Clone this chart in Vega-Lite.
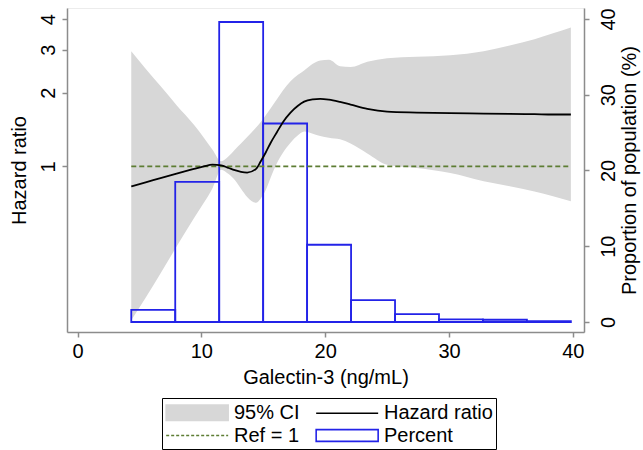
{
  "$schema": "https://vega.github.io/schema/vega-lite/v6.json",
  "width": 517,
  "height": 324,
  "autosize": "none",
  "padding": {"left": 67, "top": 8, "right": 59, "bottom": 118},
  "config": {
    "font": "Liberation Sans",
    "view": {"stroke": "#ececec"},
    "axis": {
      "grid": false,
      "domainColor": "#8c8c8c",
      "tickColor": "#8c8c8c",
      "domainWidth": 1.5,
      "tickWidth": 1.5,
      "tickSize": 5,
      "labelFontSize": 20,
      "titleFontSize": 20,
      "labelColor": "black",
      "titleColor": "black",
      "titleFontWeight": "normal",
      "labelFont": "Liberation Sans",
      "titleFont": "Liberation Sans"
    },
    "legend": {
      "title": null,
      "orient": "none",
      "legendX": 95,
      "legendY": 390,
      "columns": 2,
      "symbolSize": 427,
      "symbolStrokeWidth": 1.6,
      "symbolOpacity": 1,
      "labelFontSize": 20,
      "labelFont": "Liberation Sans",
      "labelColor": "black",
      "labelOffset": 46,
      "columnPadding": 12,
      "rowPadding": -5,
      "strokeColor": "black",
      "padding": 3,
      "fillColor": "white",
      "labelLimit": 300
    }
  },
  "datasets": {
    "curve": [
      {"x": 4.34, "hr": 0.828, "lo": 0.235, "hi": 2.96},
      {"x": 5.5, "hr": 0.86, "lo": 0.29, "hi": 2.51},
      {"x": 6.7, "hr": 0.896, "lo": 0.365, "hi": 2.13},
      {"x": 8.0, "hr": 0.935, "lo": 0.47, "hi": 1.78},
      {"x": 9.4, "hr": 0.976, "lo": 0.614, "hi": 1.48},
      {"x": 10.2, "hr": 1.0, "lo": 0.71, "hi": 1.31},
      {"x": 10.9, "hr": 1.016, "lo": 0.815, "hi": 1.17},
      {"x": 11.6, "hr": 1.01, "lo": 0.97, "hi": 1.05},
      {"x": 12.2, "hr": 0.985, "lo": 0.93, "hi": 1.1},
      {"x": 12.7, "hr": 0.965, "lo": 0.88, "hi": 1.17},
      {"x": 13.2, "hr": 0.95, "lo": 0.81, "hi": 1.24},
      {"x": 13.7, "hr": 0.944, "lo": 0.75, "hi": 1.32},
      {"x": 14.4, "hr": 0.975, "lo": 0.71, "hi": 1.44},
      {"x": 14.8, "hr": 1.05, "lo": 0.74, "hi": 1.52},
      {"x": 15.2, "hr": 1.14, "lo": 0.8, "hi": 1.62},
      {"x": 15.6, "hr": 1.25, "lo": 0.9, "hi": 1.73},
      {"x": 16.1, "hr": 1.38, "lo": 1.03, "hi": 1.88},
      {"x": 16.6, "hr": 1.52, "lo": 1.14, "hi": 2.05},
      {"x": 17.2, "hr": 1.66, "lo": 1.25, "hi": 2.23},
      {"x": 17.8, "hr": 1.77, "lo": 1.34, "hi": 2.37},
      {"x": 18.3, "hr": 1.84, "lo": 1.39, "hi": 2.47},
      {"x": 19.0, "hr": 1.88, "lo": 1.36, "hi": 2.63},
      {"x": 19.6, "hr": 1.89, "lo": 1.33, "hi": 2.71},
      {"x": 20.3, "hr": 1.875, "lo": 1.31, "hi": 2.73},
      {"x": 21.2, "hr": 1.835, "lo": 1.29, "hi": 2.57},
      {"x": 22.05, "hr": 1.79, "lo": 1.24, "hi": 2.55},
      {"x": 23.4, "hr": 1.72, "lo": 1.13, "hi": 2.68},
      {"x": 25.0, "hr": 1.675, "lo": 1.016, "hi": 2.77},
      {"x": 27.4, "hr": 1.66, "lo": 0.985, "hi": 2.81},
      {"x": 30.1, "hr": 1.65, "lo": 0.94, "hi": 2.85},
      {"x": 32.8, "hr": 1.645, "lo": 0.87, "hi": 2.96},
      {"x": 34.9, "hr": 1.64, "lo": 0.83, "hi": 3.12},
      {"x": 36.9, "hr": 1.635, "lo": 0.79, "hi": 3.31},
      {"x": 38.4, "hr": 1.63, "lo": 0.755, "hi": 3.5},
      {"x": 39.84, "hr": 1.63, "lo": 0.72, "hi": 3.7}
    ],
    "bins": [
      {"x0": 4.34, "x1": 7.89, "pct": 1.6},
      {"x0": 7.89, "x1": 11.44, "pct": 18.5},
      {"x0": 11.44, "x1": 14.99, "pct": 39.6},
      {"x0": 14.99, "x1": 18.54, "pct": 26.2},
      {"x0": 18.54, "x1": 22.09, "pct": 10.2},
      {"x0": 22.09, "x1": 25.64, "pct": 2.9},
      {"x0": 25.64, "x1": 29.19, "pct": 1.05},
      {"x0": 29.19, "x1": 32.74, "pct": 0.35},
      {"x0": 32.74, "x1": 36.29, "pct": 0.3},
      {"x0": 36.29, "x1": 39.84, "pct": 0.12}
    ],
    "ref": [
      {"x0": 4.34, "x1": 39.84, "hr": 1}
    ],
    "leg": [
      {"item": "95% CI"},
      {"item": "Hazard ratio"},
      {"item": "Ref = 1"},
      {"item": "Percent"}
    ]
  },
  "layer": [
    {
      "data": {"name": "curve"},
      "mark": {"type": "area", "color": "#d7d7d7", "interpolate": "monotone"},
      "encoding": {
        "x": {"field": "x", "type": "quantitative", "scale": {"domain": [-0.85, 40.9], "nice": false, "zero": false},
          "axis": {"values": [0, 10, 20, 30, 40], "title": "Galectin-3 (ng/mL)", "labelPadding": 4, "titlePadding": 6}},
        "y": {"field": "lo", "type": "quantitative", "scale": {"type": "log", "domain": [0.2103, 4.444], "nice": false, "zero": false},
          "axis": {"orient": "left", "values": [1, 2, 3, 4], "labelAngle": 270, "title": "Hazard ratio", "titleAngle": 270, "labelPadding": 4, "titleX": -48, "titleY": 162, "titleAlign": "center", "titleBaseline": "middle"}},
        "y2": {"field": "hi"}
      }
    },
    {
      "data": {"name": "bins"},
      "mark": {"type": "rect", "fillOpacity": 0, "stroke": "#2323e8", "strokeWidth": 1.8},
      "encoding": {
        "x": {"field": "x0", "type": "quantitative"},
        "x2": {"field": "x1"},
        "y": {"field": "pct", "type": "quantitative", "scale": {"domain": [-1.32, 41.45], "nice": false, "zero": false},
          "axis": {"orient": "right", "values": [0, 10, 20, 30, 40], "labelAngle": 270, "title": "Proportion of population (%)", "titleAngle": 270, "labelPadding": 9, "titleX": 45, "titleY": 162, "titleAlign": "center", "titleBaseline": "middle"}},
        "y2": {"datum": 0}
      }
    },
    {
      "data": {"name": "ref"},
      "mark": {"type": "rule", "color": "#5d7d33", "strokeWidth": 1.6, "strokeDash": [5, 3]},
      "encoding": {
        "x": {"field": "x0", "type": "quantitative"},
        "x2": {"field": "x1"},
        "y": {"field": "hr", "type": "quantitative", "scale": {"type": "log", "domain": [0.2103, 4.444], "nice": false, "zero": false}, "axis": null}
      }
    },
    {
      "data": {"name": "curve"},
      "mark": {"type": "line", "color": "black", "strokeWidth": 1.8, "interpolate": "monotone"},
      "encoding": {
        "x": {"field": "x", "type": "quantitative"},
        "y": {"field": "hr", "type": "quantitative", "scale": {"type": "log", "domain": [0.2103, 4.444], "nice": false, "zero": false}, "axis": null}
      }
    },
    {
      "data": {"name": "leg"},
      "mark": {"type": "point", "opacity": 0},
      "encoding": {
        "shape": {"field": "item", "type": "nominal",
          "scale": {"domain": ["95% CI", "Ref = 1", "Hazard ratio", "Percent"], "range": ["M-1,-0.75H5V0.75H-1Z", "M-1,0H5", "M-1,0H5", "M-1,-0.57H5V0.57H-1Z"]}},
        "fill": {"field": "item", "type": "nominal",
          "scale": {"domain": ["95% CI", "Ref = 1", "Hazard ratio", "Percent"], "range": ["#d7d7d7", "transparent", "transparent", "white"]}},
        "stroke": {"field": "item", "type": "nominal",
          "scale": {"domain": ["95% CI", "Ref = 1", "Hazard ratio", "Percent"], "range": ["#d7d7d7", "#5d7d33", "black", "#2323e8"]}},
        "strokeDash": {"field": "item", "type": "nominal",
          "scale": {"domain": ["95% CI", "Ref = 1", "Hazard ratio", "Percent"], "range": [[1, 0], [3, 2], [1, 0], [1, 0]]}}
      }
    }
  ],
  "resolve": {"scale": {"y": "independent"}}
}
